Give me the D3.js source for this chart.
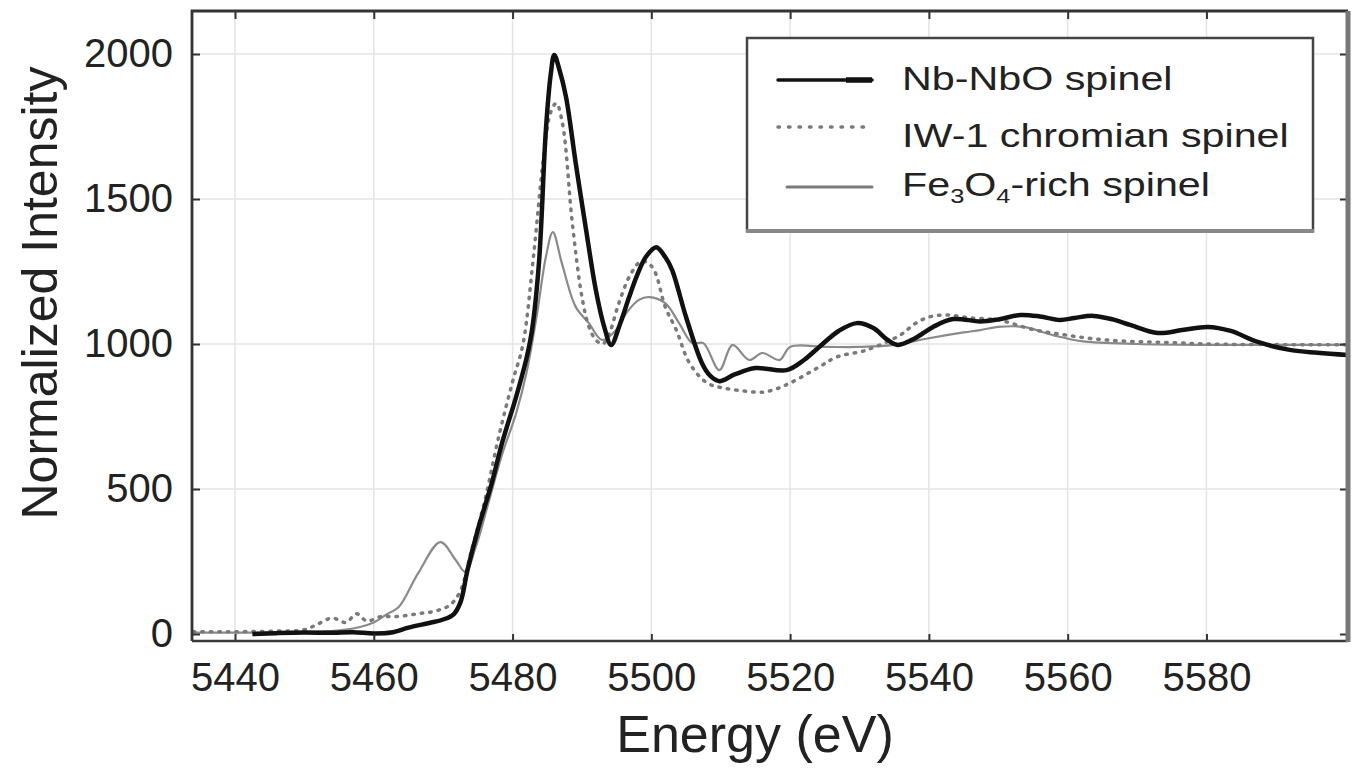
<!DOCTYPE html>
<html>
<head>
<meta charset="utf-8">
<script src="https://cdn.jsdelivr.net/npm/d3@7"></script>
<style>
  html, body { margin: 0; padding: 0; background: #fff; }
  svg text { font-family: "Liberation Sans", Arial, Helvetica, sans-serif; fill: #222; }
</style>
</head>
<body>
<svg id="chart" width="1359" height="768"></svg>
<script>
// ----- Data -----
const xTicks = [5440, 5460, 5480, 5500, 5520, 5540, 5560, 5580];
const yTicks = [0, 500, 1000, 1500, 2000];

const seriesNames = ["Nb-NbO spinel", "IW-1 chromian spinel", "Fe3O4-rich spinel"];

// Nb-NbO spinel (black solid)
const nbEnergy = [5442.5, 5446, 5450, 5454, 5457, 5460, 5462.5, 5465, 5468, 5470, 5471.5, 5472.5, 5473.5, 5475, 5477,
  5478.5, 5480.5, 5482, 5482.8, 5483.8, 5484.8, 5485.5, 5486, 5486.7, 5487.7, 5489.1, 5490.6, 5492, 5493.2, 5494.2,
  5495.5, 5496.8, 5498, 5499.2, 5500.7, 5502, 5503, 5505, 5507.3, 5508.5, 5509.8, 5512, 5515, 5519.5, 5522, 5524.2,
  5527, 5529.6, 5532, 5534, 5535.5, 5538, 5540.6, 5543.5, 5547.4, 5550, 5553.2, 5556, 5558.9, 5561, 5563.7, 5566.5,
  5569, 5573, 5576.5, 5580.2, 5583.5, 5587.4, 5592.2, 5596, 5600.4];
const nbIntensity = [0, 3, 5, 4, 6, 2, 5, 22, 38, 50, 68, 110, 220, 360, 520,
  660, 817, 950, 1048, 1279, 1738, 1930, 1997, 1950, 1852, 1624, 1393, 1186, 1060, 997,
  1070, 1162, 1240, 1300, 1334, 1300, 1255, 1093, 934, 890, 872, 895, 917, 910, 945, 990,
  1045, 1072, 1055, 1015, 997, 1020, 1059, 1086, 1078, 1085, 1100, 1095, 1083, 1090, 1097, 1085,
  1066, 1038, 1048, 1059, 1045, 1007, 979, 970, 962];

// IW-1 chromian spinel (gray dotted)
const iwEnergy = [5434, 5440, 5446, 5450, 5452, 5454, 5456, 5457.5, 5459, 5461, 5463, 5465, 5467, 5469, 5471,
  5472.5, 5474, 5476, 5478, 5480, 5481.5, 5483, 5484.5, 5485.5, 5486.3, 5487.2, 5488.6, 5490, 5491, 5492, 5493,
  5494, 5495.3, 5497, 5498.5, 5499.5, 5500.5, 5502, 5503.6, 5505.5, 5508, 5510, 5512.3, 5516, 5518, 5520.3, 5524.2,
  5526.7, 5531, 5535.8, 5538, 5540, 5542.6, 5546, 5550, 5555, 5560, 5565, 5570, 5575, 5580, 5590, 5600.4];
const iwIntensity = [8, 8, 10, 15, 35, 55, 40, 70, 45, 60, 60, 65, 72, 80, 100,
  150, 280, 460, 680, 870, 1000, 1300, 1650, 1800, 1830, 1760, 1420, 1162, 1060, 1014, 1000,
  1040, 1140, 1240, 1285, 1280, 1250, 1128, 1048, 934, 866, 850, 841, 834, 845, 869, 921,
  955, 979, 1030, 1070, 1093, 1100, 1090, 1083, 1050, 1030, 1015, 1008, 1005, 1000, 998, 997];

// Fe3O4-rich spinel (gray thin)
const feEnergy = [5434, 5445, 5452, 5456, 5460, 5462, 5463.6, 5466.4, 5469.6, 5471.8, 5473.2, 5474.7, 5476.5, 5478.5,
  5480.5, 5482, 5483.5, 5484.8, 5485.8, 5487.1, 5489.1, 5491, 5492.9, 5494.9, 5496.5, 5498.2, 5499.7, 5502, 5504,
  5505.9, 5507.5, 5509.8, 5511.7, 5514.1, 5516, 5518.5, 5520, 5525, 5530, 5535, 5540, 5545, 5547.4, 5550, 5553.6,
  5558, 5562, 5570, 5580, 5590, 5600.4];
const feIntensity = [5, 5, 8, 15, 40, 70, 93, 210, 317, 255, 214, 300, 450, 620,
  760, 900, 1100, 1300, 1386, 1279, 1128, 1072, 1014, 1048, 1110, 1152, 1162, 1141, 1072,
  1003, 1003, 910, 997, 945, 969, 945, 990, 990, 990, 997, 1020, 1040, 1048, 1059, 1059,
  1030, 1010, 1000, 997, 997, 997];

// ----- Layout -----
const width = 1359, height = 768;
const plot = { left: 192, right: 1348, top: 11, bottom: 641 };

const svg = d3.select("#chart");
svg.append("rect").attr("width", width).attr("height", height).attr("fill", "#fff");

const x = d3.scaleLinear().domain([5433.8, 5600.4]).range([plot.left, plot.right]);
const y = d3.scaleLinear().domain([-24.1, 2148.3]).range([plot.bottom, plot.top]);

// ----- Grid -----
const grid = svg.append("g").attr("stroke", "#e4e4e4").attr("stroke-width", 1.5);
grid.selectAll(".vg").data(xTicks).join("line")
    .attr("x1", d => x(d)).attr("x2", d => x(d))
    .attr("y1", plot.top).attr("y2", plot.bottom);
grid.selectAll(".hg").data(yTicks.slice(1)).join("line")
    .attr("x1", plot.left).attr("x2", plot.right)
    .attr("y1", d => y(d)).attr("y2", d => y(d));

// ----- Series -----
const line = d3.line()
    .x(d => x(d[0]))
    .y(d => y(d[1]))
    .curve(d3.curveCatmullRom.alpha(0.5));

const zip = (a, b) => a.map((v, i) => [v, b[i]]);

svg.append("path")
    .datum(zip(feEnergy, feIntensity))
    .attr("fill", "none")
    .attr("stroke", "#8a8a8a")
    .attr("stroke-width", 2.2)
    .attr("d", line);

svg.append("path")
    .datum(zip(iwEnergy, iwIntensity))
    .attr("fill", "none")
    .attr("stroke", "#7a7a7a")
    .attr("stroke-width", 3.5)
    .attr("stroke-linecap", "round")
    .attr("stroke-dasharray", "1.5 7")
    .attr("d", line);

svg.append("path")
    .datum(zip(nbEnergy, nbIntensity))
    .attr("fill", "none")
    .attr("stroke", "#111")
    .attr("stroke-width", 4.5)
    .attr("stroke-linejoin", "round")
    .attr("d", line);

// ----- Axes -----
const xAxis = svg.append("g")
    .attr("transform", `translate(0,${plot.bottom})`)
    .call(d3.axisBottom(x).tickValues(xTicks).tickSize(-7).tickPadding(22).tickFormat(d3.format("d")));
const xAxisTop = svg.append("g")
    .attr("transform", `translate(0,${plot.top})`)
    .call(d3.axisTop(x).tickValues(xTicks).tickSize(-8).tickFormat(""));
const yAxis = svg.append("g")
    .attr("transform", `translate(${plot.left},0)`)
    .call(d3.axisLeft(y).tickValues(yTicks).tickSize(-8).tickPadding(19).tickFormat(d3.format("d")));
const yAxisRight = svg.append("g")
    .attr("transform", `translate(${plot.right},0)`)
    .call(d3.axisRight(y).tickValues(yTicks).tickSize(-8).tickFormat(""));

[xAxis, xAxisTop, yAxis, yAxisRight].forEach(g => {
  g.select(".domain").remove();
  g.selectAll(".tick line").attr("stroke", "#333").attr("stroke-width", 2);
  g.selectAll(".tick text").attr("font-size", 40).attr("fill", "#222")
      .attr("font-family", "Liberation Sans, Arial, sans-serif");
});

// Frame
svg.append("path")
    .attr("d", `M${plot.left},${plot.bottom}V${plot.top}H${plot.right}`)
    .attr("fill", "none").attr("stroke", "#333").attr("stroke-width", 2.8);
svg.append("line")
    .attr("x1", plot.left).attr("x2", plot.right)
    .attr("y1", plot.bottom).attr("y2", plot.bottom)
    .attr("stroke", "#3a3a3a").attr("stroke-width", 2.5);
svg.append("line")
    .attr("x1", plot.right).attr("x2", plot.right)
    .attr("y1", plot.top).attr("y2", plot.bottom + 1)
    .attr("stroke", "#777").attr("stroke-width", 5);

// Axis titles
svg.append("text")
    .attr("x", 755).attr("y", 752)
    .attr("text-anchor", "middle")
    .attr("font-size", 52)
    .text("Energy (eV)");

svg.append("text")
    .attr("transform", "translate(57,293) rotate(-90)")
    .attr("text-anchor", "middle")
    .attr("font-size", 50)
    .text("Normalized Intensity");

// ----- Legend -----
const legend = svg.append("g");
legend.append("rect")
    .attr("x", 747).attr("y", 38).attr("width", 566).attr("height", 193)
    .attr("fill", "#fff").attr("stroke", "#444").attr("stroke-width", 2.5);
legend.append("line")
    .attr("x1", 746).attr("x2", 1314).attr("y1", 231).attr("y2", 231)
    .attr("stroke", "#888").attr("stroke-width", 4);

const legendRows = [
  { y: 80, textY: 90, x1: 778, stroke: "#111", width: 3.5, dash: null },
  { y: 127, textY: 147, x1: 778, stroke: "#7a7a7a", width: 3.5, dash: "1.5 9" },
  { y: 187, textY: 196, x1: 787, stroke: "#7a7a7a", width: 3, dash: null }
];

legendRows.forEach((r, i) => {
  const l = legend.append("line")
      .attr("x1", r.x1).attr("x2", 872).attr("y1", r.y).attr("y2", r.y)
      .attr("stroke", r.stroke).attr("stroke-width", r.width)
      .attr("stroke-linecap", "round");
  if (r.dash) l.attr("stroke-dasharray", r.dash);
  const t = legend.append("text")
      .attr("transform", `translate(902,${r.textY}) scale(1.27,1)`)
      .attr("font-size", 32.5);
  const name = seriesNames[i];
  if (name.startsWith("Fe3O4")) {
    t.append("tspan").text("Fe");
    t.append("tspan").attr("font-size", 20).attr("dy", 7).text("3");
    t.append("tspan").attr("dy", -7).text("O");
    t.append("tspan").attr("font-size", 20).attr("dy", 7).text("4");
    t.append("tspan").attr("dy", -7).text(name.slice(5));
  } else {
    t.text(name);
  }
});

// Black legend sample has a heavier short dash at its end
legend.append("line")
    .attr("x1", 846).attr("x2", 872).attr("y1", 80).attr("y2", 80)
    .attr("stroke", "#111").attr("stroke-width", 5.5);
</script>
</body>
</html>
